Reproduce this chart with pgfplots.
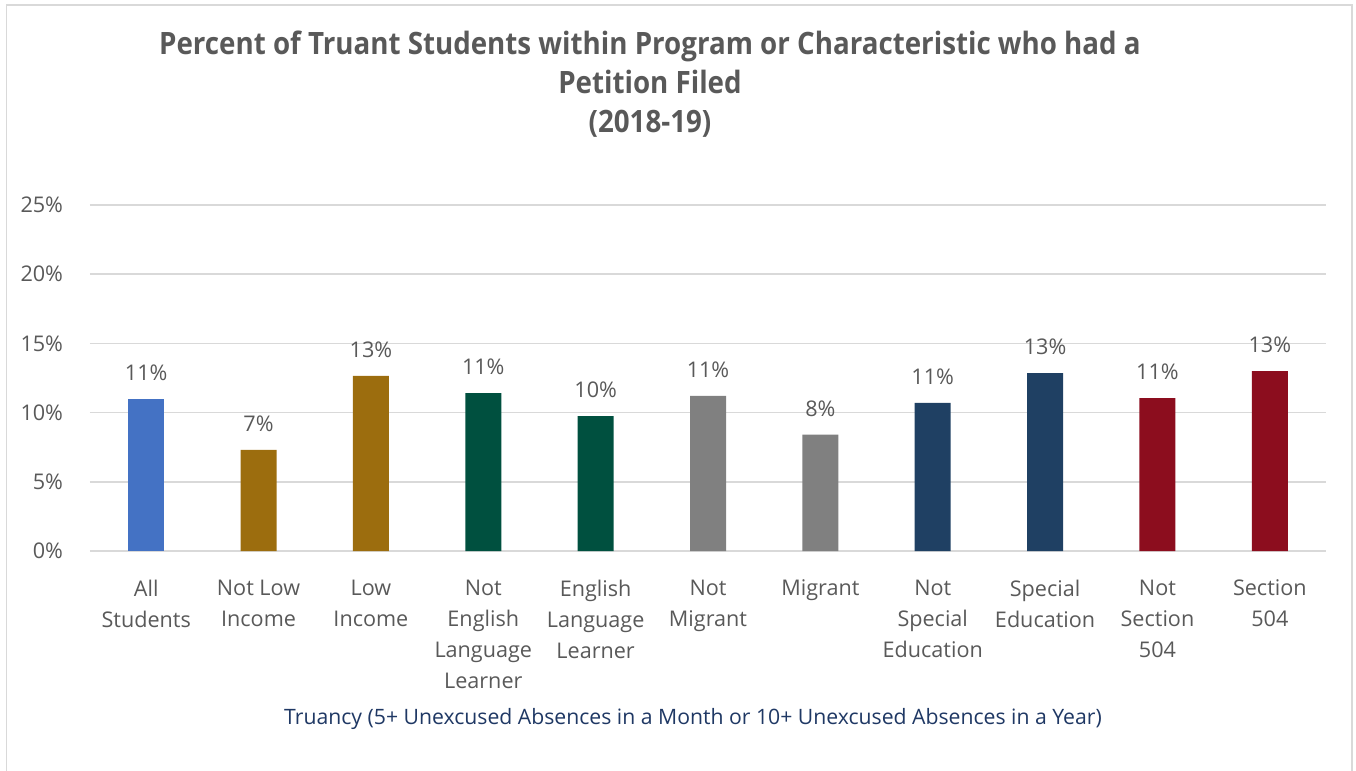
\documentclass[border=0pt]{standalone}
\usepackage{fontspec}
\setmainfont{Open Sans}
\newfontfamily\titlefont{Open Sans}[FakeStretch=0.9]
\usepackage{pgfplots}
\pgfplotsset{compat=1.18}
\definecolor{txtgray}{HTML}{595959}
\definecolor{gridgray}{HTML}{D9D9D9}
\definecolor{navytitle}{HTML}{1F3864}
\definecolor{cblue}{HTML}{4472C4}
\definecolor{cgold}{HTML}{9C6D0E}
\definecolor{cgreen}{HTML}{00503F}
\definecolor{cgray}{HTML}{808080}
\definecolor{cnavy}{HTML}{1F4063}
\definecolor{cred}{HTML}{8C0D1E}

\begin{document}
\begin{tikzpicture}
% 1 px of the reference = 0.5pt; axis south west = px (90,551)
\path[use as bounding box] (-45pt,275.5pt) rectangle (633pt,-110pt);
\draw[gridgray,line width=0.75pt] (-41.75pt,273pt) rectangle (631pt,-125pt);
\begin{axis}[
  scale only axis, width=618pt, height=173pt,
  ybar, bar width=18pt,
  xmin=-0.5, xmax=10.5, ymin=0, ymax=25,
  xtick={0,...,10},
  xticklabels={{All\\Students},{Not Low\\Income},{Low\\Income},{Not\\English\\Language\\Learner},{English\\Language\\Learner},{Not\\Migrant},{Migrant},{Not\\Special\\Education},{Special\\Education},{Not\\Section\\504},{Section\\504}},
  xticklabel style={align=center, anchor=north, inner sep=0pt, yshift=-10pt, text=txtgray, font=\fontsize{10.8}{15.5}\selectfont},
  ytick={0,5,...,25},
  yticklabel={\pgfmathprintnumber{\tick}\%},
  yticklabel style={anchor=east, inner sep=0pt, xshift=-13.3pt, text=txtgray, font=\fontsize{10.8}{13}\selectfont},
  /pgf/number format/assume math mode=true,
  ymajorgrids, grid style={gridgray, line width=0.75pt},
  axis line style={draw=none}, tick style={draw=none},
  nodes near coords={\pgfmathprintnumber[fixed,precision=0]{\pgfplotspointmeta}\%},
  every node near coord/.append style={anchor=center, yshift=13pt, text=txtgray, font=\fontsize{10.8}{13}\selectfont},
  clip=false,
]
\addplot[fill=cblue, draw=none, bar shift=0pt] coordinates {(0,11.0)};
\addplot[fill=cgold, draw=none, bar shift=0pt] coordinates {(1,7.3) (2,12.65)};
\addplot[fill=cgreen, draw=none, bar shift=0pt] coordinates {(3,11.4) (4,9.75)};
\addplot[fill=cgray, draw=none, bar shift=0pt] coordinates {(5,11.2) (6,8.4)};
\addplot[fill=cnavy, draw=none, bar shift=0pt] coordinates {(7,10.7) (8,12.85)};
\addplot[fill=cred, draw=none, bar shift=0pt] coordinates {(9,11.05) (10,13.0)};
\end{axis}
\begin{scope}[every node/.style={text=txtgray, font=\titlefont\fontsize{15.4}{18}\selectfont\bfseries, anchor=base, inner sep=0pt}]
\node at (280pt,248pt) {Percent of Truant Students within Program or Characteristic who had a};
\node at (280pt,228.5pt) {Petition Filed};
\node at (280pt,209pt) {(2018-19)};
\end{scope}
\node[anchor=base, inner sep=0pt, text=navytitle, font=\fontsize{10.6}{13}\selectfont] at (301.5pt,-87pt) {Truancy (5+ Unexcused Absences in a Month or 10+ Unexcused Absences in a Year)};
\end{tikzpicture}
\end{document}
